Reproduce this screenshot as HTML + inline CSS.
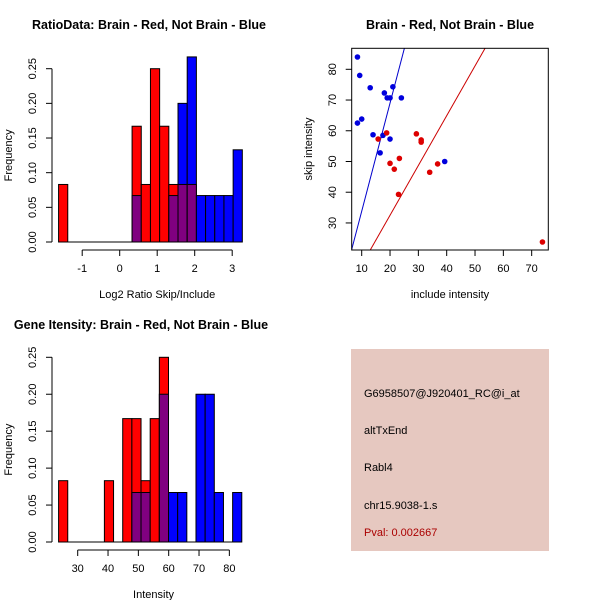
<!DOCTYPE html>
<html><head><meta charset="utf-8"><style>
body{margin:0;background:#fff}
svg text{font-family:"Liberation Sans",sans-serif}
</style></head><body>
<svg id="s" width="600" height="600" xmlns="http://www.w3.org/2000/svg">
<rect width="600" height="600" fill="#fff"/>
<g id="g1"></g>
<g id="g2"></g>
<g id="g3"></g>
<g>
<rect x="351" y="349" width="198" height="202" fill="#e6c8c0"/>
<text x="364" y="397" font-size="11">G6958507@J920401_RC@i_at</text>
<text x="364" y="434" font-size="11">altTxEnd</text>
<text x="364" y="471" font-size="11">Rabl4</text>
<text x="364" y="509" font-size="11">chr15.9038-1.s</text>
<text x="364" y="536" font-size="11" fill="#aa0000">Pval: 0.002667</text>
</g>
</svg>
<script>
// Ratio histogram data
const ratioBreakStart=-1.63, ratioBinWidth=0.245;
const ratioRed=[0.083,0,0,0,0,0,0,0,0.167,0.083,0.25,0.167,0.083,0.083,0.083,0,0,0,0,0];
const ratioBlue=[0,0,0,0,0,0,0,0,0.067,0,0,0,0.067,0.2,0.267,0.067,0.067,0.067,0.067,0.133];
const ratioXTicks=[-1,0,1,2,3];
const freqTicks=["0.00","0.05","0.10","0.15","0.20","0.25"];
// Intensity histogram data
const intBreakStart=23.7, intBinWidth=3.02;
const intRed=[0.083,0,0,0,0,0.083,0,0.167,0.167,0.083,0.167,0.25,0,0,0,0,0,0,0,0];
const intBlue=[0,0,0,0,0,0,0,0,0.067,0.067,0,0.2,0.067,0.067,0,0.2,0.2,0.067,0,0.067];
const intXTicks=[30,40,50,60,70,80];
// Scatter data
const blueInc=[8.5,9.3,13,18,21,19,20,24,8.5,10,14,17.5,20,16.5,39.3];
const blueSkip=[84,78,74,72.3,74.3,70.7,70.7,70.7,62.5,63.8,58.7,58.5,57.3,52.8,50];
const redInc=[15.8,18.8,29.3,31,31,23.3,20,21.5,36.8,34,23,73.8];
const redSkip=[57.3,59.3,59,57,56.3,51,49.4,47.5,49.2,46.5,39.3,23.8];
const blueLine=[3.52,-1.4]; // slope, intercept
const redLine=[1.62,0.1];
const scXTicks=[10,20,30,40,50,60,70];
const scYTicks=[30,40,50,60,70,80];

const NS="http://www.w3.org/2000/svg";
function mk(p,t,a,txt){const e=document.createElementNS(NS,t);for(const k in a)e.setAttribute(k,a[k]);if(txt!==undefined)e.textContent=txt;p.appendChild(e);return e;}

function hist(g,title,titleX,titleY,xlab,breakStart,bw,red,blue,xticks,xs,ys,y0,axisY){
  const t=mk(g,'text',{x:titleX,y:titleY,'font-size':12.5,'font-weight':'bold','text-anchor':'middle'},title);
  
  for(let i=0;i<red.length;i++){
    const x0=xs(breakStart+i*bw),x1=xs(breakStart+(i+1)*bw);
    const r=red[i],b=blue[i],mn=Math.min(r,b),mx=Math.max(r,b);
    if(mx>0){const top=mk(g,'rect',{x:x0,y:ys(mx),width:x1-x0,height:ys(0)-ys(mx),fill:r>=b?'#ff0000':'#0000ff',stroke:'#000','stroke-width':1});
      }
    if(mn>0){const p=mk(g,'rect',{x:x0,y:ys(mn),width:x1-x0,height:ys(0)-ys(mn),fill:'#800080',stroke:'#000','stroke-width':1});
      }
  }
  const base=mk(g,'line',{x1:xs(breakStart),x2:xs(breakStart+red.length*bw),y1:ys(0),y2:ys(0),stroke:'#000'});
  
  const xa=mk(g,'line',{x1:xs(xticks[0]),x2:xs(xticks[xticks.length-1]),y1:axisY,y2:axisY,stroke:'#000'});
  
  xticks.forEach(v=>{mk(g,'line',{x1:xs(v),x2:xs(v),y1:axisY,y2:axisY+6,stroke:'#000'});
    const l=mk(g,'text',{x:xs(v),y:axisY+22,'font-size':11,'text-anchor':'middle'},String(v));
    });
  const ya=mk(g,'line',{x1:52,x2:52,y1:ys(0),y2:ys(0.25),stroke:'#000'});
  
  freqTicks.forEach(s=>{const v=parseFloat(s);mk(g,'line',{x1:46,x2:52,y1:ys(v),y2:ys(v),stroke:'#000'});
    const l=mk(g,'text',{x:0,y:0,'font-size':11,'text-anchor':'middle',transform:`translate(36,${ys(v)}) rotate(-90)`},s);
    });
  const xl=mk(g,'text',{x:(xs(xticks[0])+xs(xticks[xticks.length-1]))/2,y:axisY+48,'font-size':11,'text-anchor':'middle'},xlab);
  
  const yl=mk(g,'text',{x:0,y:0,'font-size':11,'text-anchor':'middle',transform:`translate(12,${(ys(0)+ys(0.25))/2}) rotate(-90)`},'Frequency');
  
}

hist(document.getElementById('g1'),'RatioData: Brain - Red, Not Brain - Blue',149,29,'Log2 Ratio Skip/Include',
  ratioBreakStart,ratioBinWidth,ratioRed,ratioBlue,ratioXTicks,
  v=>119.7+v*37.5, v=>242-v*693.2, 242,250);
hist(document.getElementById('g3'),'Gene Itensity: Brain - Red, Not Brain - Blue',141,329,'Intensity',
  intBreakStart,intBinWidth,intRed,intBlue,intXTicks,
  v=>77.7+(v-30)*3.033, v=>542-v*738.8, 542,550);

// scatter
(function(){
  const g=document.getElementById('g2');
  const xs=v=>361.7+(v-10)*2.833, ys=v=>69.3-(v-80)*3.073;
  const L=351.7,R=548.3,T=48.3,B=250;
  const t=mk(g,'text',{x:450,y:29,'font-size':12.5,'font-weight':'bold','text-anchor':'middle'},'Brain - Red, Not Brain - Blue');
  
  const defs=mk(g,'clipPath',{id:'cp'});mk(defs,'rect',{x:L,y:T,width:R-L,height:B-T});
  const lg=mk(g,'g',{'clip-path':'url(#cp)'});
  const xmin=0,xmax=80;
  const bl=mk(lg,'line',{x1:xs(xmin),y1:ys(blueLine[0]*xmin+blueLine[1]),x2:xs(xmax),y2:ys(blueLine[0]*xmax+blueLine[1]),stroke:'#0000cc'});
  
  const rl=mk(lg,'line',{x1:xs(xmin),y1:ys(redLine[0]*xmin+redLine[1]),x2:xs(xmax),y2:ys(redLine[0]*xmax+redLine[1]),stroke:'#cc0000'});
  
  blueInc.forEach((v,i)=>{const c=mk(lg,'circle',{cx:xs(v),cy:ys(blueSkip[i]),r:2.8,fill:'#0000dd'});
    });
  redInc.forEach((v,i)=>{const c=mk(lg,'circle',{cx:xs(v),cy:ys(redSkip[i]),r:2.8,fill:'#dd0000'});
    });
  const box=mk(g,'rect',{x:L,y:T,width:R-L,height:B-T,fill:'none',stroke:'#000'});
  
  scXTicks.forEach(v=>{mk(g,'line',{x1:xs(v),x2:xs(v),y1:B,y2:B+6,stroke:'#000'});
    const l=mk(g,'text',{x:xs(v),y:B+22,'font-size':11,'text-anchor':'middle'},String(v));
    });
  scYTicks.forEach(v=>{mk(g,'line',{x1:L-6,x2:L,y1:ys(v),y2:ys(v),stroke:'#000'});
    const l=mk(g,'text',{x:0,y:0,'font-size':11,'text-anchor':'middle',transform:`translate(336,${ys(v)}) rotate(-90)`},String(v));
    });
  const xl=mk(g,'text',{x:450,y:298,'font-size':11,'text-anchor':'middle'},'include intensity');
  
  const yl=mk(g,'text',{x:0,y:0,'font-size':11,'text-anchor':'middle',transform:'translate(312,149) rotate(-90)'},'skip intensity');
  
})();
</script>
</body></html>
